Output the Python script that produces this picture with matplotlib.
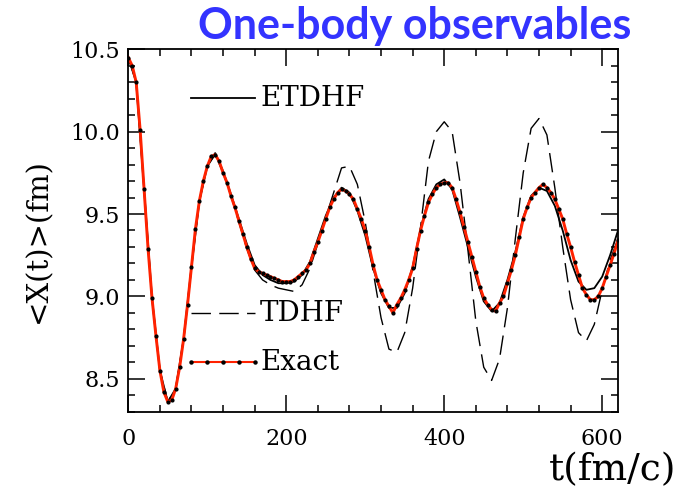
import numpy as np
import matplotlib
matplotlib.use("Agg")
import matplotlib.pyplot as plt
from matplotlib.ticker import MultipleLocator

# datos
t_exact = np.arange(0, 625, 5)
exact = [10.45, 10.40, 10.30, 10.01, 9.65, 9.29, 8.99, 8.76, 8.55, 8.42,
         8.36, 8.37, 8.44, 8.57, 8.74, 8.95, 9.18, 9.41, 9.58, 9.70,
         9.79, 9.85, 9.86, 9.82, 9.75, 9.69, 9.61, 9.54, 9.46, 9.38,
         9.30, 9.23, 9.17, 9.15, 9.14, 9.13, 9.12, 9.11, 9.10, 9.09,
         9.09, 9.09, 9.10, 9.12, 9.14, 9.16, 9.20, 9.27, 9.33, 9.40,
         9.47, 9.54, 9.59, 9.63, 9.65, 9.64, 9.62, 9.59, 9.53, 9.47,
         9.40, 9.30, 9.19, 9.10, 9.04, 8.98, 8.94, 8.90, 8.95, 8.99,
         9.04, 9.10, 9.17, 9.29, 9.40, 9.49, 9.57, 9.62, 9.66, 9.68,
         9.69, 9.69, 9.66, 9.59, 9.51, 9.42, 9.33, 9.24, 9.15, 9.06,
         8.99, 8.95, 8.92, 8.91, 8.96, 9.00, 9.08, 9.16, 9.25, 9.36,
         9.47, 9.54, 9.60, 9.63, 9.66, 9.68, 9.66, 9.63, 9.59, 9.53,
         9.47, 9.38, 9.30, 9.21, 9.13, 9.05, 9.01, 8.98, 8.98, 9.00,
         9.05, 9.12, 9.19, 9.26, 9.34]

t = np.arange(0, 630, 10)
etdhf = [10.45, 10.30, 9.65, 8.99, 8.55, 8.36, 8.44, 8.74, 9.18, 9.58,
         9.79, 9.87, 9.76, 9.62, 9.47, 9.32, 9.19, 9.13, 9.10, 9.08,
         9.08, 9.09, 9.13, 9.21, 9.35, 9.49, 9.60, 9.66, 9.63, 9.52,
         9.37, 9.17, 9.02, 8.93, 8.93, 9.02, 9.18, 9.41, 9.59, 9.68,
         9.71, 9.65, 9.48, 9.30, 9.12, 8.97, 8.91, 8.96, 9.10, 9.27,
         9.48, 9.61, 9.66, 9.64, 9.55, 9.40, 9.22, 9.09, 9.04, 9.05,
         9.12, 9.25, 9.40]

tdhf = [10.45, 10.30, 9.65, 8.99, 8.55, 8.36, 8.44, 8.74, 9.18, 9.58,
        9.79, 9.86, 9.75, 9.61, 9.45, 9.29, 9.16, 9.10, 9.07, 9.05,
        9.04, 9.03, 9.07, 9.17, 9.32, 9.48, 9.63, 9.78, 9.79, 9.68,
        9.45, 9.15, 8.87, 8.68, 8.66, 8.78, 9.05, 9.42, 9.82, 10.00,
        10.06, 10.00, 9.69, 9.28, 8.85, 8.57, 8.49, 8.62, 8.93, 9.35,
        9.75, 10.02, 10.08, 9.98, 9.66, 9.30, 8.98, 8.78, 8.73, 8.83,
        9.04, 9.22, 9.35]

serif = "DejaVu Serif"
rojo = "#ff2200"

fig = plt.figure(figsize=(6.88, 4.92), dpi=100)
ax = fig.add_axes([128.3 / 688, 1 - 411.7 / 492, 489.7 / 688, 362.4 / 492])

ax.plot(t, tdhf, color="black", lw=1.0, dashes=(14, 6))
ax.plot(t, etdhf, color="black", lw=1.3)
ax.plot(t_exact, exact, color=rojo, lw=2.1, marker="o", ms=2.0,
        mfc="black", mec="black")

ax.set_xlim(0, 620)
ax.set_ylim(8.3, 10.5)
ax.xaxis.set_major_locator(MultipleLocator(200))
ax.xaxis.set_minor_locator(MultipleLocator(40))
ax.yaxis.set_major_locator(MultipleLocator(0.5))
ax.yaxis.set_minor_locator(MultipleLocator(0.1))
ax.tick_params(which="both", direction="in", top=True, right=True, width=1.1)
ax.tick_params(which="major", length=12, labelsize=16)
ax.tick_params(axis="x", which="major", pad=12)
ax.tick_params(axis="y", which="major", pad=6)
ax.tick_params(which="minor", length=5)
ax.yaxis.set_major_formatter(plt.FuncFormatter(lambda v, p: f"{v:.1f}"))
for lab in ax.get_xticklabels() + ax.get_yticklabels():
    lab.set_family(serif)
for s in ax.spines.values():
    s.set_linewidth(1.3)

# leyenda manual
ax.plot([0.129, 0.258], [0.865, 0.865], transform=ax.transAxes, color="black", lw=1.3)
ax.text(0.269, 0.865, "ETDHF", transform=ax.transAxes, va="center",
        family=serif, fontsize=20)
ax.plot([0.129, 0.258], [0.271, 0.271], transform=ax.transAxes, color="black",
        lw=1.0, dashes=(14, 6))
ax.text(0.269, 0.271, "TDHF", transform=ax.transAxes, va="center",
        family=serif, fontsize=20)
ax.plot(np.linspace(0.129, 0.258, 5), [0.136] * 5, transform=ax.transAxes,
        color=rojo, lw=1.5, marker="o", ms=2.2, mfc="black", mec="black")
ax.text(0.269, 0.136, "Exact", transform=ax.transAxes, va="center",
        family=serif, fontsize=20)

fig.text(38 / 688, 1 - 241 / 492, "<X(t)>(fm)", rotation=90, ha="center",
         va="center", family=serif, fontsize=21)
fig.text(613 / 688, 1 - 470 / 492, "t(fm/c)", ha="center", va="center",
         family=serif, fontsize=27)

fig.text(415 / 688, 1 - 26 / 492, "One-body observables", ha="center",
         va="center", family="Lato", weight="bold", fontsize=31, color="#3333ff")

fig.savefig("out.png", dpi=100)
